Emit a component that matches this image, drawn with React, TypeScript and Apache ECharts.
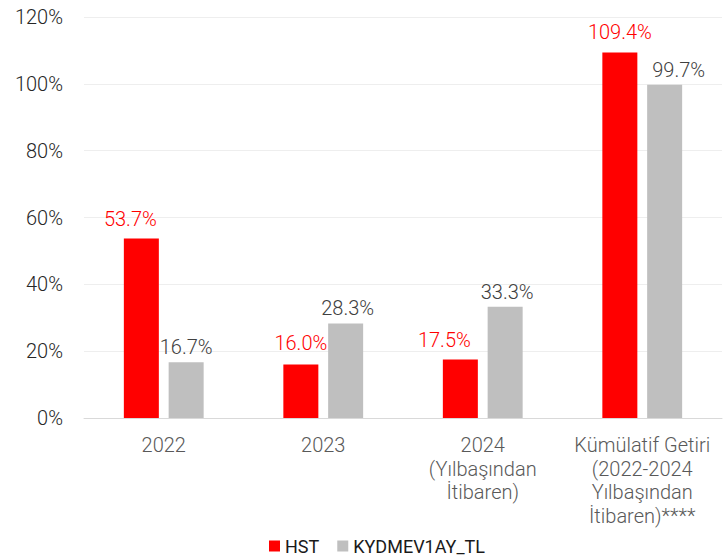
import React, { useEffect, useRef } from "react";
import * as echarts from "echarts";

const categories = [
  "2022",
  "2023",
  "2024\n(Yılbaşından\nİtibaren)",
  "Kümülatif Getiri\n(2022-2024\nYılbaşından\nİtibaren)****",
];
const hstValues = [53.7, 16.0, 17.5, 109.4];
const kydValues = [16.7, 28.3, 33.3, 99.7];
const seriesNames = ["HST", "KYDMEV1AY_TL"];
// per-label nudges as placed in the original chart
const hstLabelOffsets = [[-11, 0], [0, -2], [-16, 0], [0, 0]];
const kydLabelOffsets = [[0, 0], [2, 0], [2, 0], [14, 0]];

const FONT = "Roboto, sans-serif";
const W = 300;

export default function App() {
  const ref = useRef<HTMLDivElement>(null);
  useEffect(() => {
    if (!ref.current) return;
    const chart = echarts.init(ref.current, null, { renderer: "svg" });
    const labelFmt = (p: any) => `${Number(p.value).toFixed(1)}%`;
    chart.setOption({
      animation: false,
      textStyle: { fontFamily: FONT, fontWeight: W },
      grid: { left: 84, right: 6, top: 17, bottom: 142 },
      legend: {
        left: 264,
        top: 532,
        icon: "rect",
        itemWidth: 11,
        itemHeight: 11,
        itemGap: 18,
        textStyle: { fontFamily: FONT, fontSize: 18, fontWeight: 400, color: "#1a1a1a" },
        data: seriesNames,
      },
      xAxis: {
        type: "category",
        data: categories,
        axisTick: { show: false },
        axisLine: { lineStyle: { color: "#d9d9d9", width: 1 } },
        axisLabel: {
          fontFamily: FONT,
          fontSize: 20,
          fontWeight: W,
          color: "#595959",
          lineHeight: 23.7,
          margin: 15,
          interval: 0,
        },
      },
      yAxis: {
        type: "value",
        min: 0,
        max: 120,
        interval: 20,
        axisLine: { show: false },
        axisTick: { show: false },
        splitLine: { lineStyle: { color: "#eeeeee", width: 1 } },
        axisLabel: {
          fontFamily: FONT,
          fontSize: 20,
          fontWeight: W,
          color: "#262626",
          margin: 21,
          formatter: (v: number) => `${v}%`,
        },
      },
      series: [
        {
          name: seriesNames[0],
          type: "bar",
          data: hstValues.map((v, i) => ({ value: v, label: { offset: hstLabelOffsets[i] } })),
          barWidth: 35,
          barGap: "28%",
          itemStyle: { color: "#ff0000" },
          label: {
            show: true,
            position: "top",
            distance: 10,
            fontFamily: FONT,
            fontSize: 20,
            fontWeight: W,
            color: "#ff0000",
            formatter: labelFmt,
          },
        },
        {
          name: seriesNames[1],
          type: "bar",
          data: kydValues.map((v, i) => ({ value: v, label: { offset: kydLabelOffsets[i] } })),
          barWidth: 35,
          itemStyle: { color: "#bfbfbf" },
          label: {
            show: true,
            position: "top",
            distance: 5,
            fontFamily: FONT,
            fontSize: 20,
            fontWeight: W,
            color: "#404040",
            formatter: labelFmt,
          },
        },
      ],
    });
    return () => chart.dispose();
  }, []);
  return (
    <div
      ref={ref}
      style={{ position: "fixed", left: 0, top: 0, width: 728, height: 560, background: "#fff" }}
    />
  );
}
